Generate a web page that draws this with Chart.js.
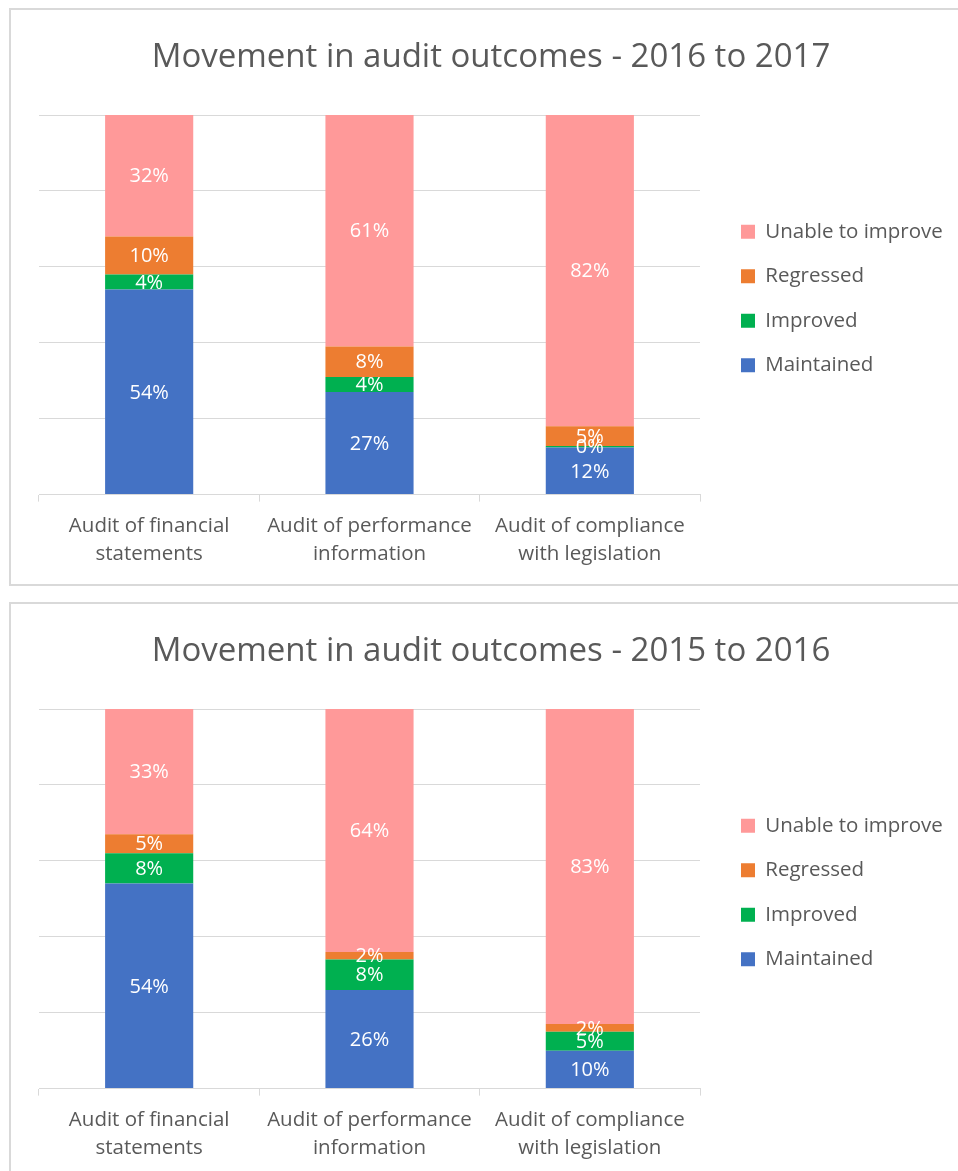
<!DOCTYPE html>
<html>
<head>
<meta charset="utf-8">
<script src="https://cdn.jsdelivr.net/npm/chart.js@4"></script>
<style>
  body { margin: 0; background: #fff; overflow: hidden; }
  .box { position: absolute; left: 9px; width: 960px; height: 574px; border: 2px solid #d9d9d9; }
  canvas { display: block; }
</style>
</head>
<body>
<div class="box" style="top:8px"><canvas id="chart2017"></canvas></div>
<div class="box" style="top:602px"><canvas id="chart2016"></canvas></div>
<script>
const categories = [
  ['Audit of financial', 'statements'],
  ['Audit of performance', 'information'],
  ['Audit of compliance', 'with legislation']
]
const seriesNames = ['Maintained', 'Improved', 'Regressed', 'Unable to improve']
const seriesColors = ['#4472C4', '#00B050', '#ED7D31', '#FF9999']

// 2016 to 2017 (percent of auditees)
const maintained2017 = [54, 27, 12.4]
const improved2017 = [4, 4, 0.4]
const regressed2017 = [10, 8, 5.2]
const unable2017 = [32, 61, 82]

// 2015 to 2016
const maintained2016 = [54, 26, 10]
const improved2016 = [8, 8, 5]
const regressed2016 = [5, 2, 2]
const unable2016 = [33, 64, 83]

const yTicks = [0, 20, 40, 60, 80, 100]

const FONT = 'Open Sans'
const GREY = '#595959'

// white % labels in the middle of each segment
const segmentLabels = {
  id: 'segmentLabels',
  afterDatasetsDraw (chart) {
    const { ctx } = chart
    ctx.save()
    ctx.fillStyle = '#fff'
    ctx.font = '20px "' + FONT + '"'
    ctx.textAlign = 'center'
    ctx.textBaseline = 'middle'
    chart.data.datasets.forEach((ds, i) => {
      chart.getDatasetMeta(i).data.forEach((bar, j) => {
        const { x, y, base } = bar.getProps(['x', 'y', 'base'], true)
        ctx.fillText(Math.round(ds.data[j]) + '%', x, (y + base) / 2 + 1)
      })
    })
    ctx.restore()
  }
}

const makeChart = (id, title, values) => new Chart(id, {
  type: 'bar',
  data: {
    labels: categories,
    datasets: values.map((data, i) => ({
      label: seriesNames[i],
      data,
      backgroundColor: seriesColors[i],
      borderWidth: 0,
      barPercentage: 0.4,
      categoryPercentage: 1
    }))
  },
  plugins: [segmentLabels],
  options: {
    responsive: true,
    maintainAspectRatio: false,
    animation: false,
    layout: { padding: { left: 28, right: 28, top: 8, bottom: 5 } },
    plugins: {
      title: {
        display: true,
        text: title,
        color: GREY,
        font: { family: FONT, size: 33, weight: 'normal' },
        padding: { top: 20, bottom: 37.4 }
      },
      legend: {
        position: 'right',
        reverse: true,
        labels: {
          boxWidth: 14,
          boxHeight: 14,
          padding: 24,
          color: GREY,
          font: { family: FONT, size: 20.5 }
        }
      },
      tooltip: { enabled: false }
    },
    scales: {
      x: {
        stacked: true,
        grid: { display: true, drawOnChartArea: false, drawTicks: true, tickLength: 7, color: '#d9d9d9' },
        border: { display: true, color: '#d9d9d9' },
        ticks: {
          color: GREY,
          font: { family: FONT, size: 20.5, lineHeight: 1.4 },
          padding: 10,
          maxRotation: 0,
          autoSkip: false
        }
      },
      y: {
        stacked: true,
        position: 'right',
        min: yTicks[0],
        max: yTicks[yTicks.length - 1],
        afterBuildTicks: axis => { axis.ticks = yTicks.map(value => ({ value })) },
        afterFit: axis => { axis.width = 17 },
        grid: { color: '#d9d9d9', drawTicks: false },
        border: { display: false },
        ticks: { display: false }
      }
    }
  }
})

// wait for the installed font so legend widths are measured right
document.fonts.load('20px "' + FONT + '"').then(() => {
  makeChart('chart2017', 'Movement in audit outcomes - 2016 to 2017',
    [maintained2017, improved2017, regressed2017, unable2017])
  makeChart('chart2016', 'Movement in audit outcomes - 2015 to 2016',
    [maintained2016, improved2016, regressed2016, unable2016])
})
</script>
</body>
</html>
